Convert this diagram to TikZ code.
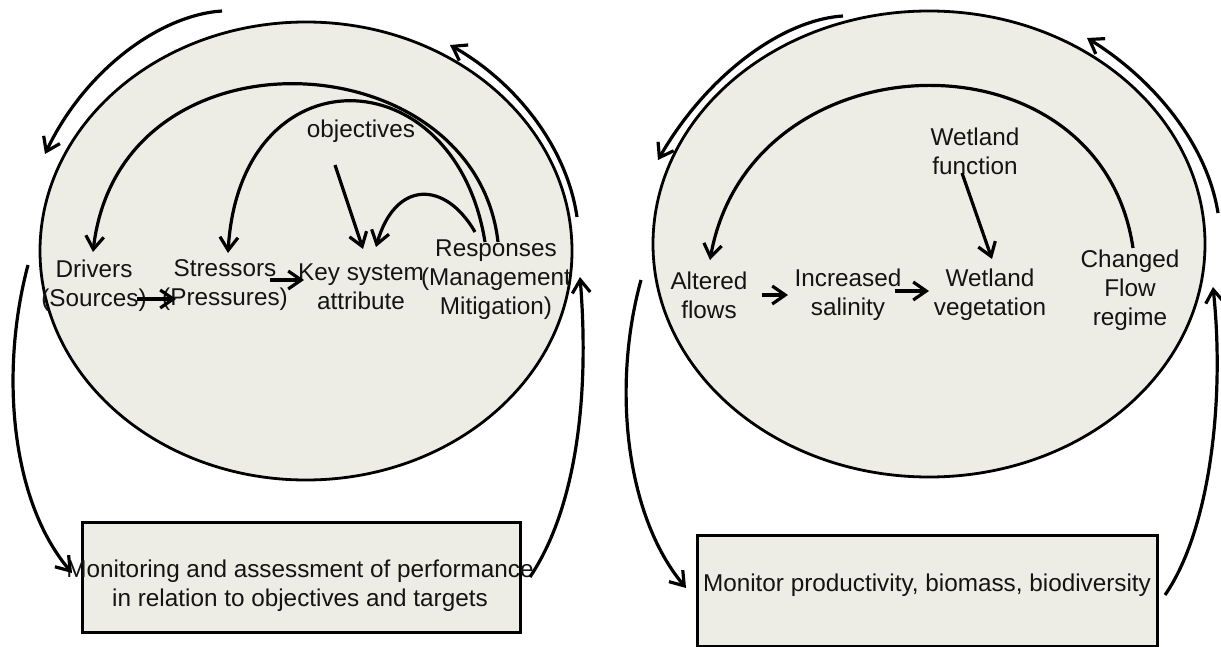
\documentclass[tikz,border=0pt]{standalone}
\usepackage{fontspec}
\setmainfont{Liberation Sans}
\usetikzlibrary{arrows.meta,shapes.geometric}
\definecolor{bgfill}{RGB}{238,237,229}
\definecolor{ink}{RGB}{20,20,20}
\begin{document}
\begin{tikzpicture}[x=1pt,y=-1pt,
  lbl/.style={font=\fontsize{24.3}{29}\selectfont, align=center, inner sep=0pt, text=ink},
  conn/.style={line width=3.2pt, draw=black, -{Straight Barb[length=13pt,width=18pt]}},
  blob/.style={ellipse, draw=black, line width=2.8pt, fill=bgfill, inner sep=0pt},
  panel/.style={rectangle, draw=black, line width=3pt, fill=bgfill, inner sep=0pt}]
\useasboundingbox (0,0) rectangle (1221,647);
\fill[white] (0,0) rectangle (1221,647);

% ---------------- left diagram ----------------
\node[blob, minimum width=532pt, minimum height=458pt] (ellA) at (306,251) {};
\node[panel, minimum width=438pt, minimum height=110pt] (boxA) at (301,577) {};

\node[lbl] (obj) at (361,131) {objectives};
\node[lbl] (drv) at (94,285.5) {Drivers\\(Sources)};
\node[lbl] (strs) at (225,285.5) {Stressors\\(Pressures)};
\node[lbl] (key) at (361,286.5) {Key system\\attribute};
\node[lbl] (resp) at (496,280) {Responses\\(Management\\Mitigation)};
\node[lbl] (monA) at (300,585.5) {Monitoring and assessment of performance\\in relation to objectives and targets};

\coordinate (a1s) at (222,11);  \coordinate (a1e) at (45,154);
\coordinate (a2s) at (577,217); \coordinate (a2e) at (450,45);
\coordinate (a3s) at (28,265);  \coordinate (a3e) at (72,573);
\coordinate (a4s) at (530,577); \coordinate (a4e) at (580,277);
\coordinate (a5s) at (498,242); \coordinate (a5e) at (93,252);
\coordinate (a6s) at (485,242); \coordinate (a6e) at (228,253);
\coordinate (a7s) at (475,232); \coordinate (a7e) at (376,247);
\coordinate (a8s) at (335,165); \coordinate (a8e) at (363,249);
\coordinate (a9s) at (137,299); \coordinate (a9e) at (176,299);
\coordinate (a10s) at (270,280); \coordinate (a10e) at (304,280);

\draw[conn] (a1s) .. controls (160,15) and (85,70) .. (a1e);
\draw[conn] (a2s) .. controls (567,148) and (517,83) .. (a2e);
\draw[conn] (a3s) .. controls (0,370) and (10,500) .. (a3e);
\draw[conn] (a4s) .. controls (575,510) and (590,400) .. (a4e);
\draw[conn] (a5s) .. controls (475,40) and (120,20) .. (a5e);
\draw[conn] (a6s) .. controls (455,55) and (240,50) .. (a6e);
\draw[conn] (a7s) .. controls (445,180) and (395,180) .. (a7e);
\draw[conn] (a8s) -- (a8e);
\draw[conn] (a9s) -- (a9e);
\draw[conn] (a10s) -- (a10e);

% ---------------- right diagram ----------------
\node[blob, minimum width=552pt, minimum height=466pt] (ellB) at (929,244) {};
\node[panel, minimum width=460pt, minimum height=111pt] (boxB) at (927,590.5) {};

\node[lbl] (wf) at (975,151) {Wetland\\function};
\node[lbl] (alt) at (709,295) {Altered\\flows};
\node[lbl] (inc) at (848,295) {Increased\\salinity};
\node[lbl] (wv) at (990,295) {Wetland\\vegetation};
\node[lbl] (cfr) at (1130,290) {Changed\\Flow\\regime};
\node[lbl] (monB) at (927,585) {Monitor productivity, biomass, biodiversity};

\coordinate (b1s) at (843,16);   \coordinate (b1e) at (658,160);
\coordinate (b2s) at (1218,213); \coordinate (b2e) at (1087,38);
\coordinate (b3s) at (641,280);  \coordinate (b3e) at (686,588);
\coordinate (b4s) at (1165,595); \coordinate (b4e) at (1213,287);
\coordinate (b5s) at (1133,248); \coordinate (b5e) at (710,260);
\coordinate (b6s) at (962,173);  \coordinate (b6e) at (992,259);
\coordinate (b7s) at (762,295);  \coordinate (b7e) at (788,295);
\coordinate (b8s) at (895,291);  \coordinate (b8e) at (929,291);

\draw[conn] (b1s) .. controls (780,20) and (705,78) .. (b1e);
\draw[conn] (b2s) .. controls (1207,143) and (1152,78) .. (b2e);
\draw[conn] (b3s) .. controls (612,385) and (625,515) .. (b3e);
\draw[conn] (b4s) .. controls (1210,530) and (1225,400) .. (b4e);
\draw[conn] (b5s) .. controls (1100,25) and (750,35) .. (b5e);
\draw[conn] (b6s) -- (b6e);
\draw[conn] (b7s) -- (b7e);
\draw[conn] (b8s) -- (b8e);
\end{tikzpicture}
\end{document}
